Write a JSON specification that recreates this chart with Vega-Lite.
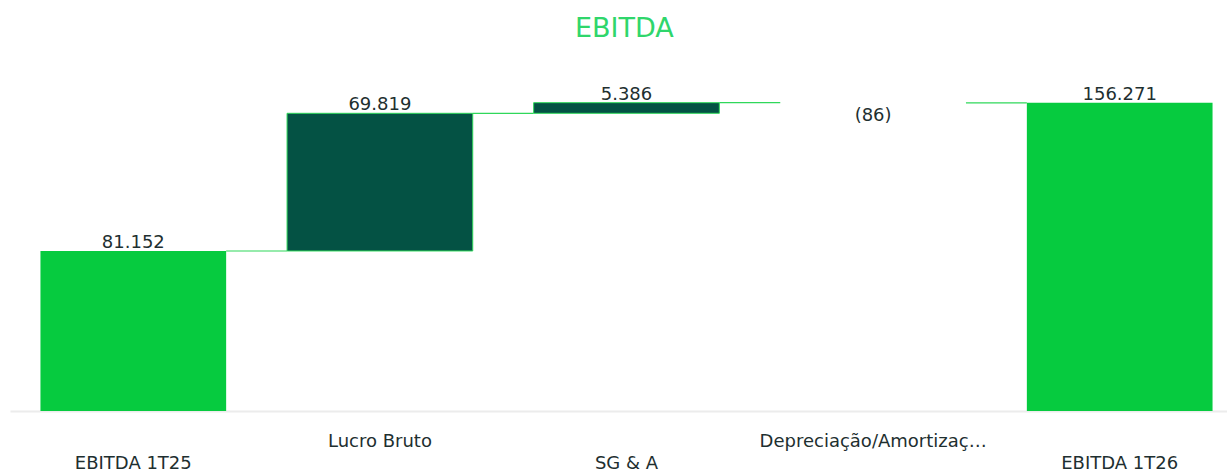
{
  "$schema": "https://vega.github.io/schema/vega-lite/v6.json",
  "width": 1233,
  "height": 351,
  "autosize": {"type": "none"},
  "padding": {"left": 10, "top": 60, "right": 0, "bottom": 61},
  "background": "white",
  "title": {
    "text": "EBITDA",
    "color": "#2fd66b",
    "font": "DejaVu Sans",
    "fontSize": 27,
    "fontWeight": "normal",
    "anchor": "start",
    "dx": 565,
    "offset": 17
  },
  "data": {
    "values": [
      {"cat": "EBITDA 1T25", "start": 0, "end": 81152, "type": "total", "label": "81.152", "next": "Lucro Bruto"},
      {"cat": "Lucro Bruto", "start": 81152, "end": 150971, "type": "up", "label": "69.819", "next": "SG & A"},
      {"cat": "SG & A", "start": 150971, "end": 156357, "type": "up", "label": "5.386", "next": "Depreciação/Amortizaç…"},
      {"cat": "Depreciação/Amortizaç…", "start": 156357, "end": 156271, "type": "down", "label": "(86)", "next": "EBITDA 1T26"},
      {"cat": "EBITDA 1T26", "start": 0, "end": 156271, "type": "total", "label": "156.271", "next": null}
    ]
  },
  "config": {
    "view": {"stroke": null},
    "font": "DejaVu Sans"
  },
  "encoding": {
    "x": {
      "field": "cat",
      "type": "nominal",
      "sort": null,
      "title": null,
      "scale": {"paddingInner": 0.247, "paddingOuter": 0.1235},
      "axis": {
        "labelAngle": 0,
        "ticks": false,
        "domainColor": "#ececec",
        "domainWidth": 2,
        "labelColor": "#1e2f30",
        "labelFont": "DejaVu Sans",
        "labelFontSize": 18,
        "labelBaseline": "top",
        "labelLimit": 400,
        "labelPadding": {
          "condition": {"test": "datum.value === 'Lucro Bruto' || datum.value === 'Depreciação/Amortizaç…'", "value": 21},
          "value": 43
        }
      }
    }
  },
  "layer": [
    {
      "mark": {"type": "bar", "strokeWidth": 1, "stroke": "#2fd85a"},
      "encoding": {
        "y": {
          "field": "start",
          "type": "quantitative",
          "scale": {"domain": [0, 178000], "nice": false},
          "axis": null
        },
        "y2": {"field": "end"},
        "color": {
          "field": "type",
          "type": "nominal",
          "legend": null,
          "scale": {"domain": ["total", "up", "down"], "range": ["#06cb3f", "#045244", "#045244"]}
        },
        "strokeOpacity": {
          "condition": {"test": "datum.type === 'down' || datum.type === 'total'", "value": 0},
          "value": 1
        }
      }
    },
    {
      "transform": [{"filter": "datum.next != null"}],
      "mark": {"type": "rule", "color": "#2fd85a", "strokeWidth": 1.2},
      "encoding": {
        "x": {"field": "cat", "type": "nominal", "sort": null, "bandPosition": 1},
        "x2": {"field": "next", "bandPosition": 0},
        "y": {"field": "end", "type": "quantitative"}
      }
    },
    {
      "transform": [{"filter": "datum.type !== 'down'"}],
      "mark": {"type": "text", "baseline": "alphabetic", "dy": -3, "fontSize": 18, "color": "#1e2f30", "font": "DejaVu Sans"},
      "encoding": {
        "y": {"field": "end", "type": "quantitative"},
        "text": {"field": "label"}
      }
    },
    {
      "transform": [{"filter": "datum.type === 'down'"}],
      "mark": {"type": "text", "baseline": "top", "dy": 4, "fontSize": 18, "color": "#1e2f30", "font": "DejaVu Sans"},
      "encoding": {
        "y": {"field": "end", "type": "quantitative"},
        "text": {"field": "label"}
      }
    }
  ]
}
